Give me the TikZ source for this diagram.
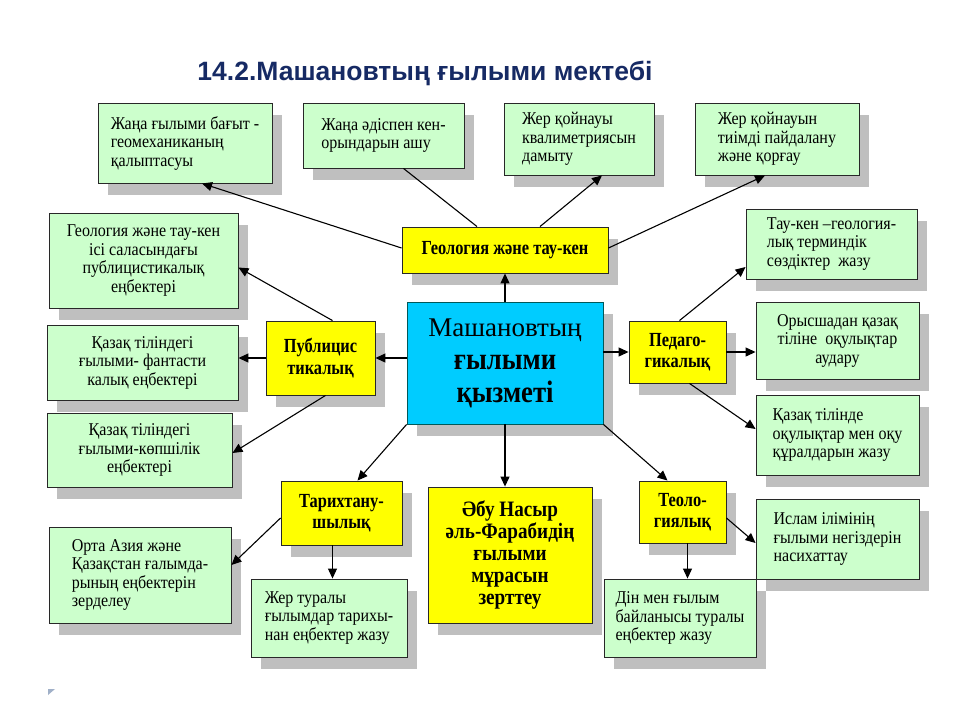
\documentclass[tikz,border=0pt]{standalone}
\usepackage{fontspec}
\setmainfont{Liberation Serif}
\newfontfamily\titlefont{Liberation Sans}
\newfontfamily\gfont[FakeStretch=0.89]{Liberation Serif}
\newfontfamily\yfont[FakeStretch=0.82]{Liberation Serif}
\newfontfamily\ffont[FakeStretch=0.87]{Liberation Serif}
\newfontfamily\cfont[FakeStretch=0.86]{Liberation Serif}
\usetikzlibrary{arrows.meta,shadows}
\definecolor{gfill}{RGB}{204,255,204}
\definecolor{yfill}{RGB}{255,255,0}
\definecolor{cfill}{RGB}{0,204,255}
\definecolor{shad}{RGB}{191,191,191}
\definecolor{navy}{RGB}{22,42,100}
\definecolor{edgec}{RGB}{40,40,40}
\definecolor{marker}{RGB}{160,176,200}
\tikzset{
 base/.style={draw=edgec, line width=0.9pt, drop shadow={shadow xshift=10pt,shadow yshift=-12pt,fill=shad,opacity=1}, inner sep=0pt, font=\gfont\fontsize{18}{18.5}\selectfont},
 gbox/.style={base, fill=gfill},
 ybox/.style={base, fill=yfill, font=\yfont\bfseries\fontsize{20}{21.5}\selectfont, align=center},
 cbox/.style={base, fill=cfill, draw=teal!70!black, align=center, font=\fontsize{27}{33}\selectfont},
 sz/.style n args={2}{minimum width=#1pt, minimum height=#2pt},
 arr/.style={-{Triangle[length=10pt,width=9pt]}, line width=1.1pt, draw=black},
 conn/.style={line width=1.1pt, draw=black}
}
\begin{document}
\begin{tikzpicture}[x=1pt,y=-1pt]
\useasboundingbox[fill=white] (0,0) rectangle (960,720);
% title
\node[font=\titlefont\bfseries\fontsize{26.5}{30}\selectfont, text=navy] (title) at (425,73) {14.2.Машановтың ғылыми мектебі};
% top row
\node[gbox, sz={174}{80}, align=left] (a1) at (185,143) {Жаңа ғылыми бағыт -\\геомеханиканың\\қалыптасуы};
\node[gbox, sz={161}{65}, align=left] (a2) at (383.5,135.5) {Жаңа әдіспен кен-\\орындарын ашу};
\node[gbox, sz={150}{72}, align=left] (a3) at (579,139) {Жер қойнауы\\квалиметриясын\\дамыту};
\node[gbox, sz={164}{72}, align=left] (a4) at (777,139) {Жер қойнауын\\тиімді пайдалану\\және қорғау};
\node[ybox, sz={206}{46}] (geo) at (505,250) {Геология және тау-кен};
% left
\node[gbox, sz={189}{95}, align=center] (l1) at (143.5,260.5) {Геология және тау-кен\\ісі саласындағы\\публицистикалық\\еңбектері};
\node[gbox, sz={191}{75}, align=center] (l2) at (142.5,362.5) {Қазақ тіліндегі\\ғылыми- фантасти\\калық еңбектері};
\node[gbox, sz={185}{74}, align=center] (l3) at (139.5,450) {Қазақ тіліндегі\\ғылыми-көпшілік\\еңбектері};
\node[ybox, sz={109}{74}] (publ) at (320.5,358) {Публицис\\тикалық};
% center
\node[cbox, sz={196}{122}] (cen) at (505,363) {Машановтың\\{\cfont\bfseries\fontsize{31}{33}\selectfont ғылыми}\\{\cfont\bfseries\fontsize{31}{33}\selectfont қызметі}};
% right
\node[ybox, sz={97}{62}] (ped) at (677.5,352) {Педаго-\\гикалық};
\node[gbox, sz={171}{70}, align=left] (r1) at (831.5,244) {Тау-кен –геология-\\лық терминдік\\сөздіктер \ жазу};
\node[gbox, sz={163}{77}, align=center] (r2) at (837.5,340.5) {Орысшадан қазақ\\тіліне \ оқулықтар\\аудару};
\node[gbox, sz={163}{80}, align=left] (r3) at (837.5,435) {Қазақ тілінде\\оқулықтар мен оқу\\құралдарын жазу};
% bottom
\node[ybox, sz={121}{64}] (tar) at (341.5,513) {Тарихтану-\\шылық};
\node[gbox, sz={182}{96}, align=left] (b1) at (140,575) {Орта Азия және\\Қазақстан ғалымда-\\рының еңбектерін\\зерделеу};
\node[gbox, sz={156}{78}, align=left] (b2) at (329,618) {Жер туралы\\ғылымдар тарихы-\\нан еңбектер жазу};
\node[ybox, sz={164}{136}, font=\ffont\bfseries\fontsize{22}{22}\selectfont] (far) at (510,555) {Әбу Насыр\\әль-Фарабидің\\ғылыми\\мұрасын\\зерттеу};
\node[ybox, sz={87}{62}] (theo) at (682.5,512) {Теоло-\\гиялық};
\node[gbox, sz={163}{80}, align=left] (b4) at (837.5,539) {Ислам ілімінің\\ғылыми негіздерін\\насихаттау};
\node[gbox, sz={152}{78}, align=left] (b3) at (680,618) {Дін мен ғылым\\байланысы туралы\\еңбектер жазу};
% connectors
\draw[arr] ([yshift=2pt]geo.west) -- ([xshift=17pt]a1.south);
\draw[conn] ([xshift=20pt]a2.south) -- ([xshift=-28pt]geo.north);
\draw[arr] ([xshift=35pt]geo.north) -- ([xshift=23pt]a3.south);
\draw[arr] ([yshift=2pt]geo.east) -- ([xshift=-12pt]a4.south);
\draw[arr] (cen.north) -- (geo.south);
\draw[arr] ([xshift=12pt]publ.north) -- ([yshift=-7pt]l1.east);
\draw[arr] (publ.west) -- (publ.west -| l2.east);
\draw[arr] ([xshift=5pt]publ.south) -- ([yshift=-3pt]l3.east);
\draw[arr] (publ.east -| cen.west) -- (publ.east);
\draw[arr] (cen.south west) -- ([xshift=16pt]tar.north);
\draw[arr] (cen.south) -- (cen.south |- far.north);
\draw[arr] (cen.south east) -- ([xshift=-15pt]theo.north);
\draw[arr] (ped.west -| cen.east) -- (ped.west);
\draw[arr] ([xshift=2pt]ped.north) -- ([yshift=-23pt]r1.west);
\draw[arr] (ped.east) -- (ped.east -| r2.west);
\draw[arr] ([xshift=12pt]ped.south) -- ([yshift=6pt]r3.west);
\draw[arr] ([yshift=-5pt]tar.west) -- ([yshift=10pt]b1.east);
\draw[arr] ([xshift=-9pt]tar.south) -- ([xshift=-9pt]tar.south |- b2.north);
\draw[arr] ([yshift=-6pt]theo.east) -- ([yshift=-4pt]b4.west);
\draw[arr] ([xshift=5pt]theo.south) -- ([xshift=5pt]theo.south |- b3.north);
% corner mark
\fill[marker] (48,689) -- (55,689) -- (48,695) -- cycle;
\end{tikzpicture}
\end{document}
